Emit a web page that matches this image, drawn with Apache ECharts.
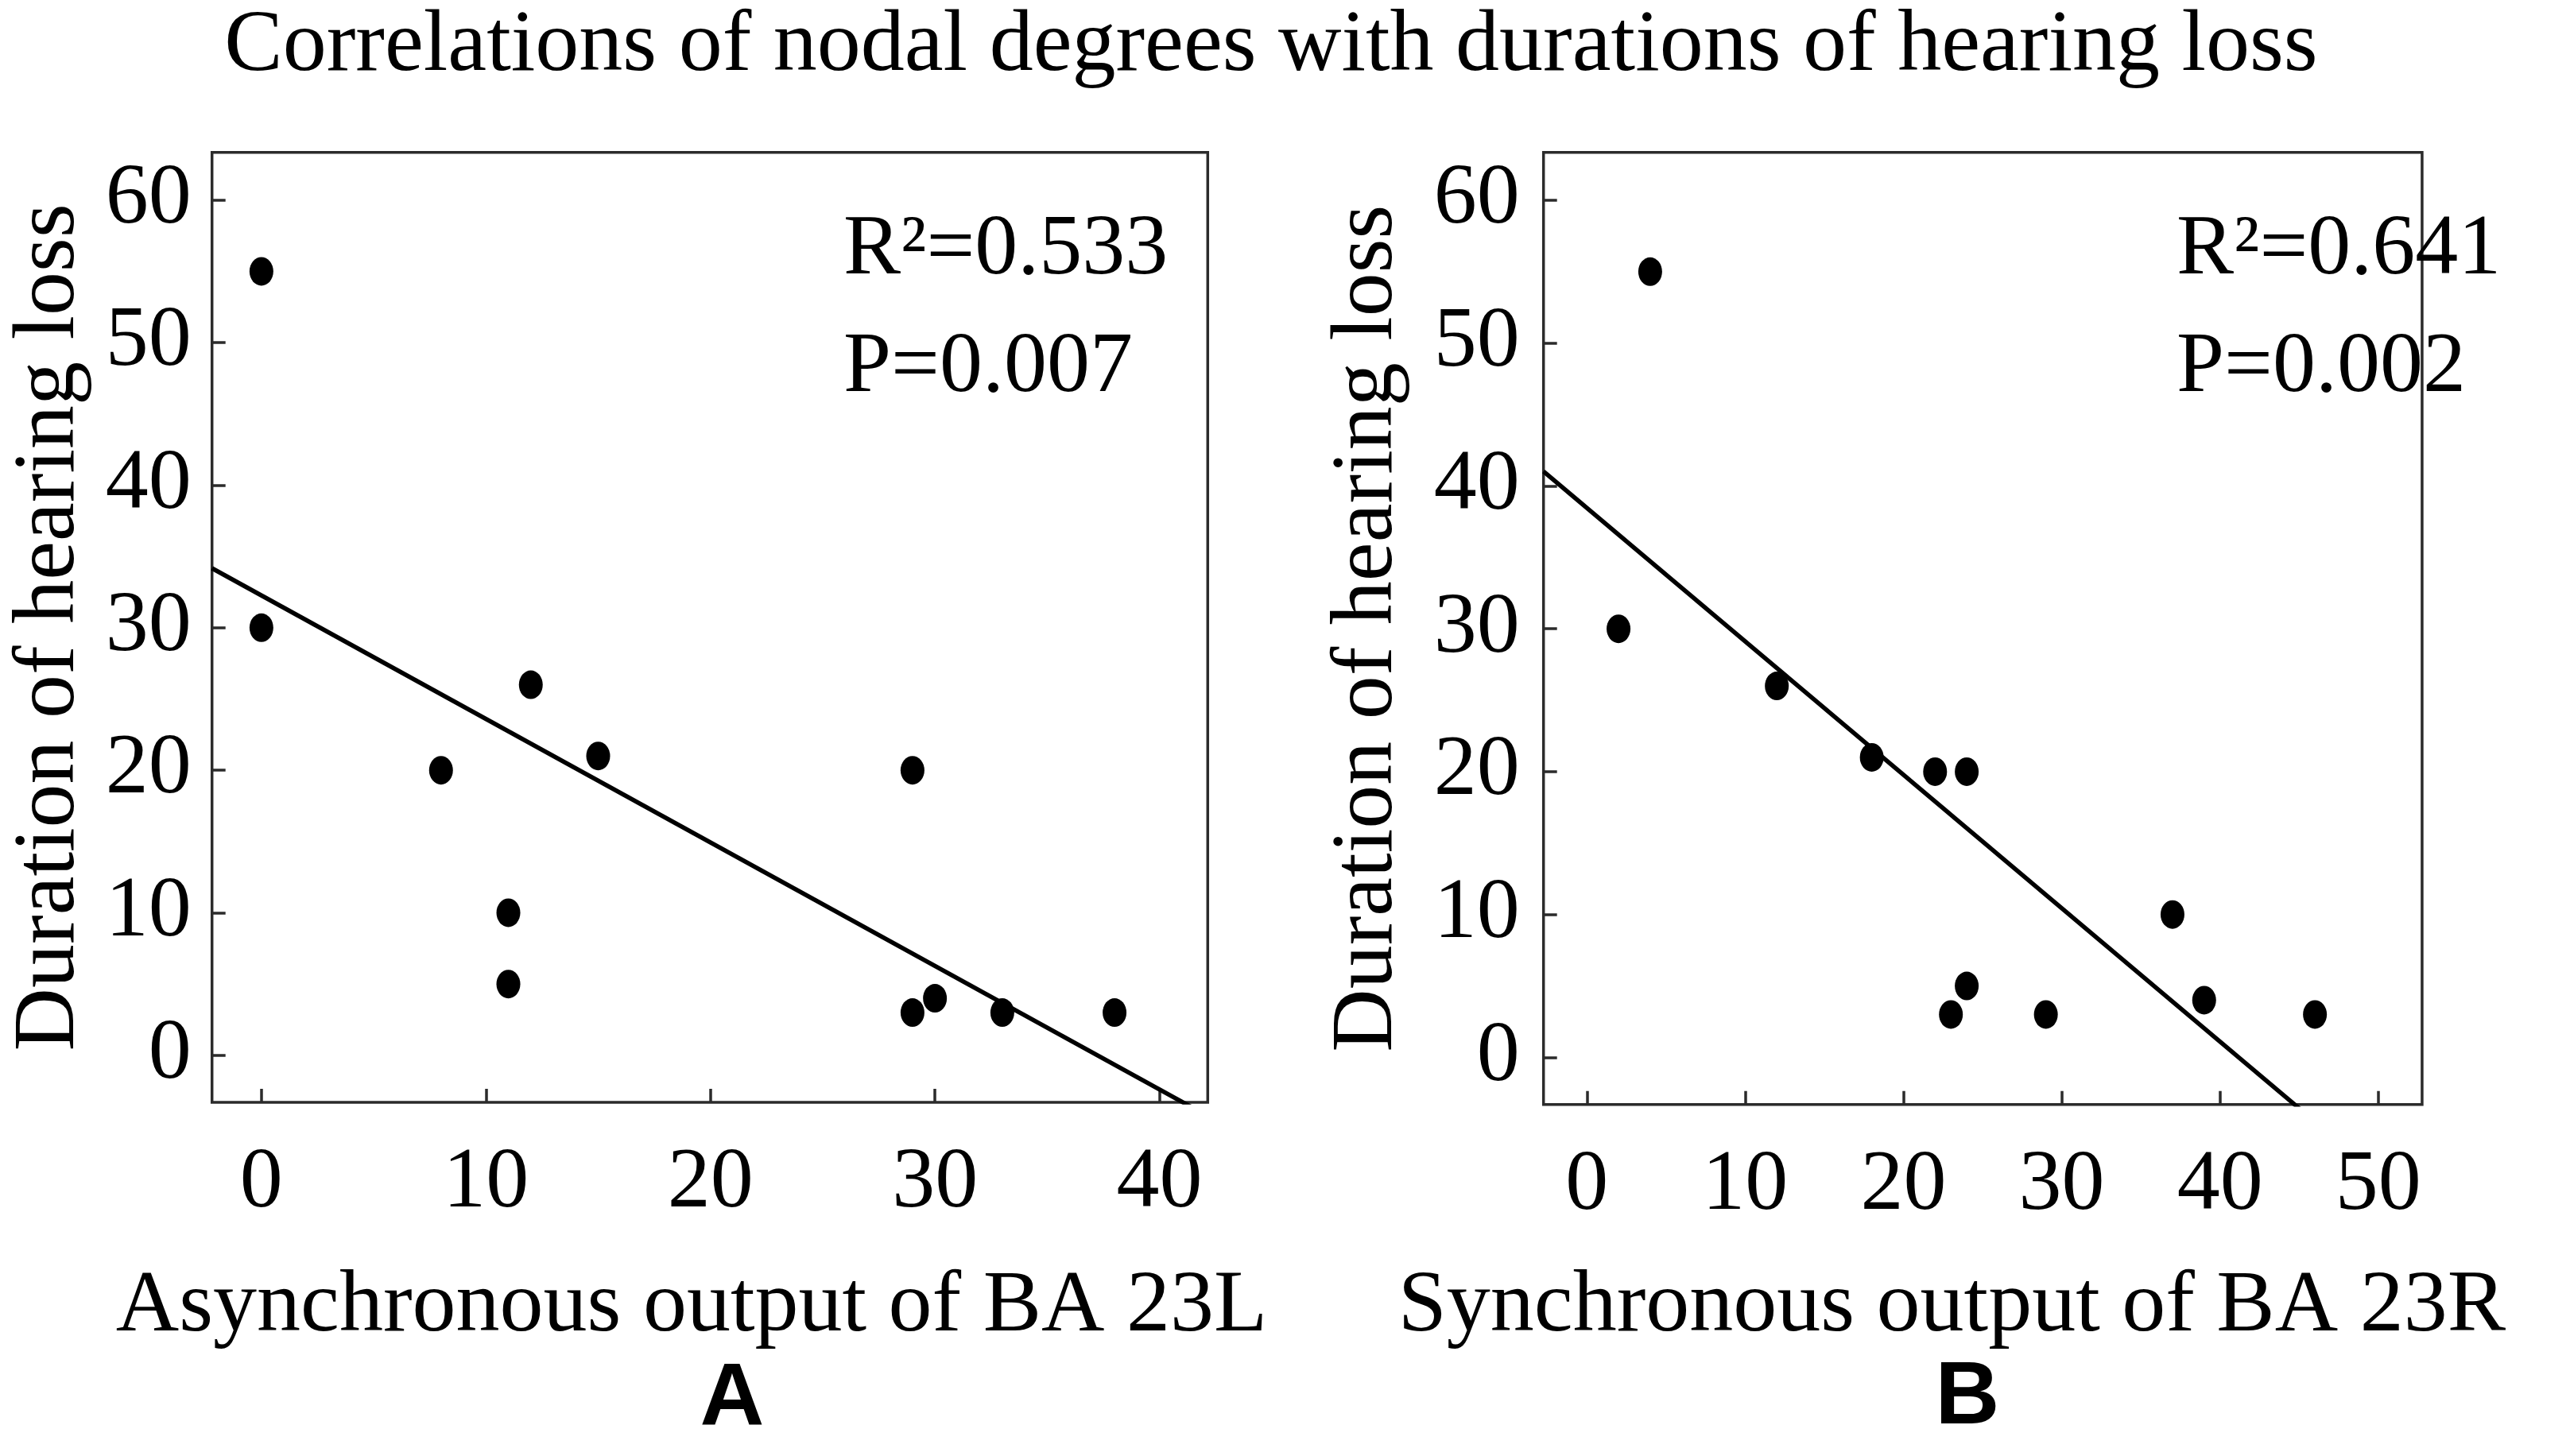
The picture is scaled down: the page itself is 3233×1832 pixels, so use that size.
<!DOCTYPE html>
<html>
<head>
<meta charset="utf-8">
<script src="https://cdn.jsdelivr.net/npm/echarts@6/dist/echarts.min.js"></script>
<style>
  html, body { margin: 0; padding: 0; background: #fff; }
  #chart { width: 3233px; height: 1832px; }
</style>
</head>
<body>
<div id="chart"></div>
<script>
// data
const chartTitle = 'Correlations of nodal degrees with durations of hearing loss'
const yName = 'Duration of hearing loss'
const xNameA = 'Asynchronous output of BA 23L'
const xNameB = 'Synchronous output of BA 23R'

const asyncOutputA = [0, 0, 8, 11, 11, 12, 15, 29, 29, 30, 33, 38]
const durationA = [55, 30, 20, 10, 5, 26, 21, 20, 3, 4, 3, 3]
const syncOutputB = [4, 2, 12, 18, 22, 24, 23, 24, 29, 37, 39, 46]
const durationB = [55, 30, 26, 21, 20, 20, 3, 5, 3, 10, 4, 3]

const xTicksA = [0, 10, 20, 30, 40]
const xTicksB = [0, 10, 20, 30, 40, 50]
const yTicks = [0, 10, 20, 30, 40, 50, 60]

const statsA = ['R²=0.533', 'P=0.007']
const statsB = ['R²=0.641', 'P=0.002']

const xRangeA = [-2.2, 42.15]
const xRangeB = [-2.74, 52.77]
const yRange = [-3.3, 63.35]

const SERIF = '"Liberation Serif", "Times New Roman", serif'
const FRAME = '#2b2b2b'

// least squares fit, drawn across the whole x range (clipped by the grid)
function fitLine(xs, ys, range) {
  const n = xs.length
  const mx = xs.reduce((a, b) => a + b, 0) / n
  const my = ys.reduce((a, b) => a + b, 0) / n
  let sxy = 0, sxx = 0
  for (let i = 0; i < n; i++) {
    sxy += (xs[i] - mx) * (ys[i] - my)
    sxx += (xs[i] - mx) * (xs[i] - mx)
  }
  const k = sxy / sxx
  const b = my - k * mx
  return [[range[0], b + k * range[0]], [range[1], b + k * range[1]]]
}

const zip = (xs, ys) => xs.map((x, i) => [x, ys[i]])

function xAxisCfg(gridIndex, range, ticks, name, nameGap, shift) {
  return {
    type: 'value', gridIndex, min: range[0], max: range[1],
    name, nameLocation: 'middle', nameGap,
    nameTextStyle: { fontFamily: SERIF, fontSize: 110, color: '#000', lineHeight: 110, padding: [0, shift, 0, 0] },
    axisLine: { show: false, onZero: false },
    axisTick: { show: true, inside: true, length: 17, customValues: ticks, lineStyle: { color: FRAME, width: 3.5 } },
    axisLabel: { customValues: ticks, fontFamily: SERIF, fontSize: 108, color: '#000', margin: 49, lineHeight: 108 },
    splitLine: { show: false }
  }
}

function yAxisCfg(gridIndex, nameGap, margin) {
  return {
    type: 'value', gridIndex, min: yRange[0], max: yRange[1],
    name: yName, nameLocation: 'middle', nameGap,
    nameTextStyle: { fontFamily: SERIF, fontSize: 110, color: '#000', lineHeight: 110 },
    axisLine: { show: false, onZero: false },
    axisTick: { show: true, inside: true, length: 17, customValues: yTicks, lineStyle: { color: FRAME, width: 3.5 } },
    axisLabel: { customValues: yTicks, fontFamily: SERIF, fontSize: 108, color: '#000', margin },
    splitLine: { show: false }
  }
}

const dotStyle = { color: '#000', opacity: 1 }
const lineStyle = { color: '#000', width: 5.5 }

function label(text, x, y, font, align) {
  return {
    type: 'text', x, y, z: 100,
    style: { text, font, fill: '#000', textAlign: align || 'left', textVerticalAlign: 'middle' }
  }
}

const chart = echarts.init(document.getElementById('chart'), null, { renderer: 'canvas' })
chart.setOption({
  backgroundColor: '#fff',
  animation: false,
  grid: [
    { left: 266.7, top: 191.7, width: 1252.6, height: 1195.3, show: true, borderColor: FRAME, borderWidth: 3.5 },
    { left: 1941.7, top: 191.7, width: 1237, height: 1198, show: true, borderColor: FRAME, borderWidth: 3.5 }
  ],
  xAxis: [
    xAxisCfg(0, xRangeA, xTicksA, xNameA, 203, 46),
    xAxisCfg(1, xRangeB, xTicksB, xNameB, 200, 78)
  ],
  yAxis: [
    yAxisCfg(0, 149, 26),
    yAxisCfg(1, 166, 30)
  ],
  series: [
    { type: 'scatter', xAxisIndex: 0, yAxisIndex: 0, data: zip(asyncOutputA, durationA),
      symbol: 'circle', symbolSize: [30, 36], itemStyle: dotStyle, z: 3 },
    { type: 'line', xAxisIndex: 0, yAxisIndex: 0, data: fitLine(asyncOutputA, durationA, xRangeA),
      showSymbol: false, clip: true, lineStyle, z: 2 },
    { type: 'scatter', xAxisIndex: 1, yAxisIndex: 1, data: zip(syncOutputB, durationB),
      symbol: 'circle', symbolSize: [30, 36], itemStyle: dotStyle, z: 3 },
    { type: 'line', xAxisIndex: 1, yAxisIndex: 1, data: fitLine(syncOutputB, durationB, xRangeB),
      showSymbol: false, clip: true, lineStyle, z: 2 }
  ],
  graphic: [
    label(chartTitle, 1599, 59, '110px ' + SERIF, 'center'),
    label(statsA[0], 1061, 316, '108px ' + SERIF),
    label(statsA[1], 1061, 464, '108px ' + SERIF),
    label(statsB[0], 2738, 316, '108px ' + SERIF),
    label(statsB[1], 2738, 464, '108px ' + SERIF),
    label('A', 921, 1762, 'bold 112px "Liberation Sans", Arial, sans-serif', 'center'),
    label('B', 2475, 1760, 'bold 112px "Liberation Sans", Arial, sans-serif', 'center')
  ]
})
</script>
</body>
</html>
